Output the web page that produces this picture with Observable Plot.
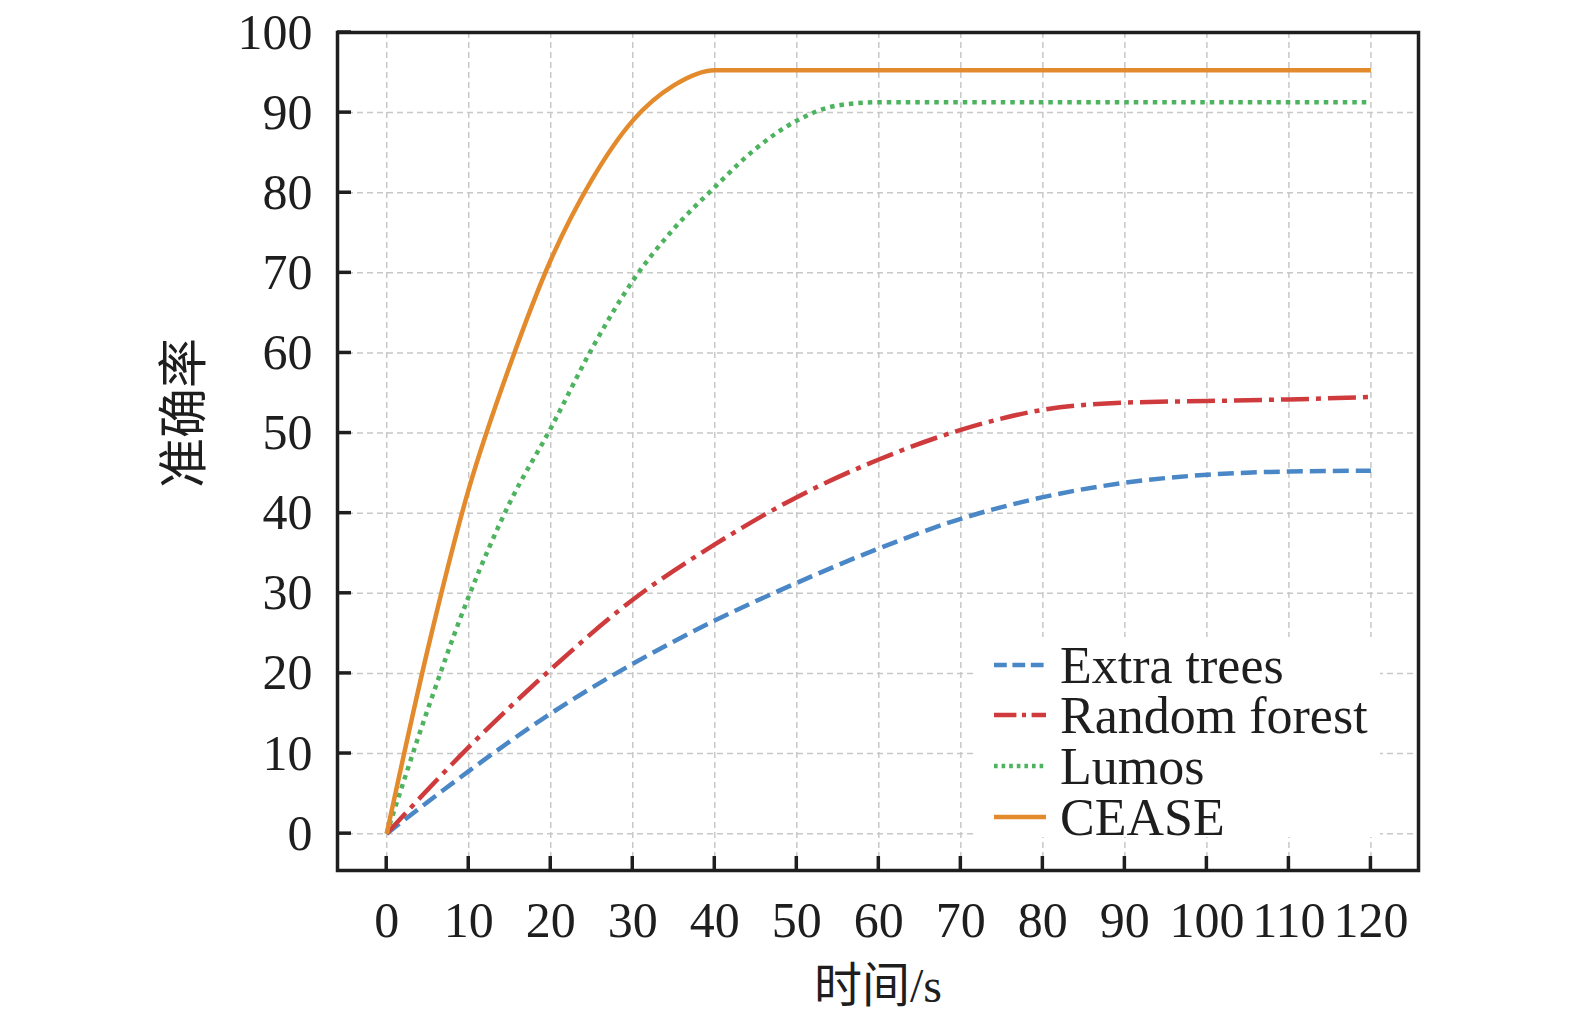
<!DOCTYPE html>
<html><head><meta charset="utf-8">
<script src="https://cdn.jsdelivr.net/npm/d3@7"></script>
<script src="https://cdn.jsdelivr.net/npm/@observablehq/plot@0.6"></script>
<style>
body{margin:0;background:#fff;}
#chart{width:1575px;height:1023px;}
</style>
</head><body><div id="chart"></div>
<script>
// ---- data ----
const seriesNames = ["Extra trees", "Random forest", "Lumos", "CEASE"];
const extraX  = [0, 10, 20, 30, 40, 50, 60, 70, 80, 90, 100, 110, 120];
const extraY  = [0, 7.8, 15, 21.2, 26.6, 31.3, 35.6, 39.3, 42, 43.8, 44.8, 45.2, 45.3];
const forestX = [0, 10, 20, 30, 40, 50, 60, 70, 80, 90, 100, 110, 120];
const forestY = [0, 10.8, 20.5, 29.2, 36.1, 42, 46.7, 50.4, 52.9, 53.8, 54, 54.2, 54.5];
const lumosX  = [0, 5, 10, 15, 20, 25, 30, 35, 40, 45, 50, 55, 60, 80, 100, 120];
const lumosY  = [0, 15.5, 29.6, 41.3, 50.6, 60.5, 69, 75.5, 80.7, 85.5, 89, 90.9, 91.3, 91.3, 91.3, 91.3];
const ceaseX  = [0, 5, 10, 15, 20, 25, 30, 35, 40, 60, 80, 100, 120];
const ceaseY  = [0, 23, 43, 58.4, 71.6, 81.6, 89, 93.4, 95.3, 95.3, 95.3, 95.3, 95.3];
const xTicks = [0, 10, 20, 30, 40, 50, 60, 70, 80, 90, 100, 110, 120];
const yTicks = [0, 10, 20, 30, 40, 50, 60, 70, 80, 90, 100];
const xLabel = "时间/s";
const yLabel = "准确率";

// ---- styles ----
const colors = ["#4a87c6", "#cf3b3d", "#4db35f", "#e38b2c"];
const dashes = ["16,7", "28,7,5,7", "4.5,5", null];
const serif = "'Liberation Serif','Times New Roman',serif";
const cjk = "'Liberation Serif','Noto Sans CJK SC',serif";

const toRows = (xs, ys) => xs.map((x, i) => ({x, y: ys[i]}));
const series = [toRows(extraX, extraY), toRows(forestX, forestY), toRows(lumosX, lumosY), toRows(ceaseX, ceaseY)];

const gridStyle = {stroke: "#c8c8c8", strokeOpacity: 1, strokeWidth: 1.5, strokeDasharray: "6,4"};

const plot = Plot.plot({
  width: 1575,
  height: 1023,
  marginLeft: 337,
  marginRight: 157,
  marginTop: 32,
  marginBottom: 153,
  style: {fontFamily: serif, fontSize: "50px", color: "#1e1e1e", background: "#fff"},
  x: {domain: [-6, 125.8]},
  y: {domain: [-4.6, 100]},
  marks: [
    Plot.gridX(xTicks, gridStyle),
    Plot.gridY(yTicks, gridStyle),
    ...series.map((rows, i) => Plot.line(rows, {
      x: "x", y: "y", stroke: colors[i], strokeWidth: 4.5,
      strokeDasharray: dashes[i] ?? undefined, strokeLinecap: "butt",
      curve: "monotone-x"
    })),
    Plot.axisX(xTicks, {tickSize: 0, tickPadding: 31, fontSize: 50, label: null, fill: "#1e1e1e"}),
    Plot.axisY(yTicks, {tickSize: 0, tickPadding: 25, fontSize: 50, label: null, fill: "#1e1e1e"}),
    Plot.frame({stroke: "#1e1e1e", strokeWidth: 3.5})
  ]
});

document.getElementById("chart").appendChild(plot);

// ---- inward tick marks, labels, legend drawn with the plot's scales ----
const sx = plot.scale("x"), sy = plot.scale("y");
const svg = d3.select(plot);
const bottom = sy.apply(-4.6), left = sx.apply(-6);
const tickLen = 14;

// legend box (covers grid)
const leg = svg.append("g");
const lx0 = 975, ly0 = 637, lw = 405, lh = 200;
leg.append("rect").attr("x", lx0).attr("y", ly0).attr("width", lw).attr("height", lh).attr("fill", "#fff");
const rowY = [665, 715, 766, 817];
series.forEach((_, i) => {
  leg.append("line")
    .attr("x1", 994).attr("x2", 1046).attr("y1", rowY[i]).attr("y2", rowY[i])
    .attr("stroke", colors[i]).attr("stroke-width", 4.5)
    .attr("stroke-dasharray", dashes[i] ? dashes[i].split(",").map(v => +v * 0.8).join(",") : null);
  leg.append("text")
    .attr("x", 1060).attr("y", rowY[i]).attr("dy", "0.34em")
    .attr("text-anchor", "start")
    .attr("font-family", serif).attr("font-size", 52).attr("fill", "#1e1e1e")
    .text(seriesNames[i]);
});

const ticks = svg.append("g").attr("stroke", "#1e1e1e").attr("stroke-width", 3.5);
xTicks.forEach(v => {
  const px = sx.apply(v);
  ticks.append("line").attr("x1", px).attr("x2", px).attr("y1", bottom).attr("y2", bottom - tickLen);
});
yTicks.forEach(v => {
  const py = sy.apply(v);
  ticks.append("line").attr("x1", left).attr("x2", left + tickLen).attr("y1", py).attr("y2", py);
});

svg.append("text")
  .attr("x", 878).attr("y", 985).attr("dy", "0.36em").attr("text-anchor", "middle")
  .attr("font-family", cjk).attr("font-size", 48).attr("fill", "#1e1e1e")
  .text(xLabel);

svg.append("text")
  .attr("transform", "translate(183,413) rotate(-90)")
  .attr("dy", "0.36em").attr("text-anchor", "middle")
  .attr("font-family", cjk).attr("font-size", 50).attr("fill", "#1e1e1e")
  .text(yLabel);
</script>
</body></html>
